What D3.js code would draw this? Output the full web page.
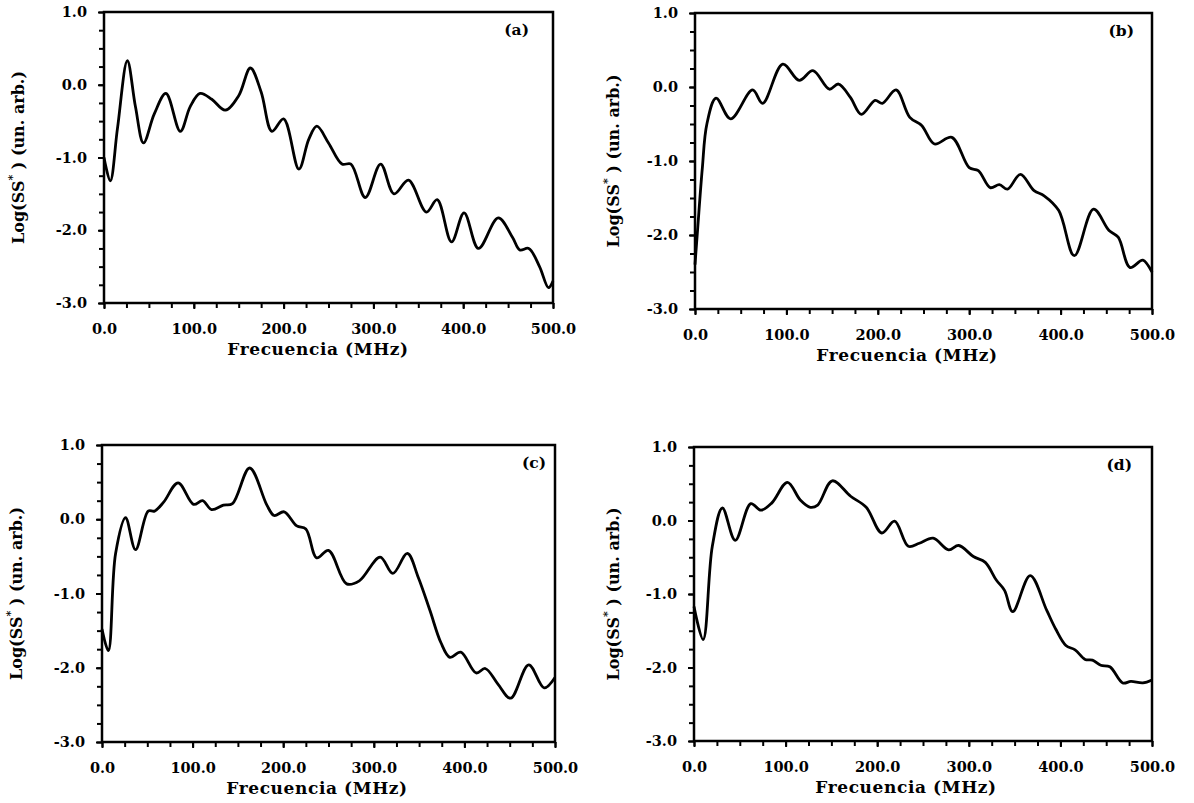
<!DOCTYPE html>
<html>
<head>
<meta charset="utf-8">
<script src="https://cdn.jsdelivr.net/npm/d3@7"></script>
<style>
  body { margin: 0; background: #fff; }
  svg { display: block; }
  text { font-family: "DejaVu Serif", "Liberation Serif", serif; font-weight: bold; fill: #000; }
</style>
</head>
<body>
<div id="vis"></div>
<script>
// values (frequency in MHz, log amplitude)
const freqA = [0, 7, 15, 26, 35, 44, 56, 69, 85, 96, 107, 120, 135, 150, 163, 175, 187, 200, 217, 228, 237, 250, 265, 275, 291, 308, 323, 339, 359, 371, 387, 401, 417, 439, 455, 463, 473, 485, 495, 500];
const logA = [-1.0, -1.32, -0.6, 0.33, -0.3, -0.8, -0.4, -0.12, -0.64, -0.3, -0.12, -0.2, -0.35, -0.15, 0.23, -0.1, -0.64, -0.47, -1.16, -0.75, -0.57, -0.8, -1.09, -1.09, -1.55, -1.09, -1.5, -1.31, -1.75, -1.58, -2.16, -1.76, -2.25, -1.83, -2.1, -2.27, -2.25, -2.5, -2.79, -2.7];

const freqB = [0, 3, 8, 13, 23, 39, 63, 74, 96, 114, 129, 147, 157, 170, 182, 197, 205, 220, 235, 248, 262, 281, 300, 310, 323, 333, 342, 356, 371, 382, 398, 415, 436, 453, 463, 476, 490, 500];
const logB = [-2.4, -1.9, -1.1, -0.5, -0.15, -0.43, -0.04, -0.22, 0.31, 0.09, 0.22, -0.03, 0.04, -0.14, -0.37, -0.18, -0.22, -0.04, -0.41, -0.52, -0.77, -0.68, -1.09, -1.13, -1.36, -1.32, -1.38, -1.18, -1.4, -1.47, -1.67, -2.28, -1.65, -1.94, -2.03, -2.44, -2.34, -2.5];

const freqC = [0, 7, 15, 26, 37, 51, 58, 68, 84, 101, 111, 121, 134, 144, 163, 182, 190, 201, 215, 225, 237, 250, 270, 284, 307, 321, 337, 349, 362, 374, 384, 396, 413, 423, 437, 451, 471, 488, 500];
const logC = [-1.48, -1.77, -0.46, 0.02, -0.41, 0.11, 0.11, 0.23, 0.49, 0.2, 0.25, 0.13, 0.19, 0.21, 0.69, 0.19, 0.05, 0.1, -0.09, -0.13, -0.52, -0.42, -0.87, -0.83, -0.51, -0.73, -0.46, -0.78, -1.23, -1.66, -1.86, -1.79, -2.07, -2.01, -2.22, -2.41, -1.96, -2.27, -2.13];

const freqD = [0, 10, 20, 31, 45, 62, 73, 85, 102, 116, 127, 135, 151, 171, 188, 205, 219, 234, 246, 261, 278, 289, 305, 318, 330, 339, 348, 367, 385, 395, 406, 416, 427, 435, 444, 454, 468, 477, 490, 500];
const logD = [-1.17, -1.62, -0.35, 0.17, -0.27, 0.23, 0.14, 0.24, 0.52, 0.28, 0.18, 0.21, 0.54, 0.33, 0.18, -0.17, -0.01, -0.35, -0.31, -0.24, -0.4, -0.34, -0.49, -0.57, -0.81, -0.95, -1.24, -0.75, -1.22, -1.48, -1.7, -1.76, -1.89, -1.9, -1.97, -1.99, -2.21, -2.19, -2.21, -2.17];

const panelTags = ["(a)", "(b)", "(c)", "(d)"];
const xTickValues = [0, 100, 200, 300, 400, 500];
const xTickLabels = ["0.0", "100.0", "200.0", "300.0", "400.0", "500.0"];
const yTickValues = [-3, -2, -1, 0, 1];
const yTickLabels = ["-3.0", "-2.0", "-1.0", "0.0", "1.0"];

const W = 1194, H = 803;
const svg = d3.select("#vis").append("svg")
    .attr("width", W)
    .attr("height", H);

// frame boxes for each panel
const boxes = [
  {left: 104, right: 553, top: 12, bottom: 303, tagX: 529, yTitleX: 24, xTitleX: 318},
  {left: 695, right: 1152, top: 13, bottom: 309, tagX: 1134, yTitleX: 619, xTitleX: 907},
  {left: 102, right: 555, top: 445, bottom: 742, tagX: 546, yTitleX: 22, xTitleX: 317},
  {left: 694, right: 1152, top: 447, bottom: 741, tagX: 1132, yTitleX: 619, xTitleX: 906}
];
const series = [[freqA, logA], [freqB, logB], [freqC, logC], [freqD, logD]];

boxes.forEach((b, i) => {
  const X = d3.scaleLinear().domain([0, 500]).range([b.left, b.right]);
  const Y = d3.scaleLinear().domain([-3, 1]).range([b.bottom, b.top]);
  const g = svg.append("g");

  // minor ticks
  g.append("g")
      .attr("transform", "translate(0," + b.bottom + ")")
      .call(d3.axisBottom(X).tickValues(d3.range(0, 501, 25)).tickSize(5).tickFormat(""))
      .call(a => a.select(".domain").remove())
      .selectAll("line").attr("stroke-width", 2);
  g.append("g")
      .attr("transform", "translate(" + b.left + ",0)")
      .call(d3.axisLeft(Y).tickValues(d3.range(-3, 1.01, 0.25)).tickSize(5).tickFormat(""))
      .call(a => a.select(".domain").remove())
      .selectAll("line").attr("stroke-width", 2);

  // major ticks + labels
  const xa = g.append("g")
      .attr("transform", "translate(0," + b.bottom + ")")
      .call(d3.axisBottom(X).tickValues(xTickValues).tickSize(6).tickPadding(15)
              .tickFormat((d, k) => xTickLabels[k]));
  xa.select(".domain").remove();
  xa.selectAll("line").attr("stroke-width", 2);
  xa.selectAll("text").attr("font-size", 14.5).attr("font-family", null);

  const ya = g.append("g")
      .attr("transform", "translate(" + b.left + ",0)")
      .call(d3.axisLeft(Y).tickValues(yTickValues).tickSize(6).tickPadding(11)
              .tickFormat((d, k) => yTickLabels[k]));
  ya.select(".domain").remove();
  ya.selectAll("line").attr("stroke-width", 2);
  ya.selectAll("text").attr("font-size", 14.5).attr("font-family", null);

  // frame
  g.append("rect")
      .attr("x", b.left).attr("y", b.top)
      .attr("width", b.right - b.left).attr("height", b.bottom - b.top)
      .attr("fill", "none").attr("stroke", "#000").attr("stroke-width", 2.5);

  // curve
  const fx = series[i][0], vy = series[i][1];
  const line = d3.line()
      .x(k => X(fx[k]))
      .y(k => Y(vy[k]))
      .curve(d3.curveCatmullRom.alpha(0.5));
  g.append("path")
      .attr("d", line(d3.range(fx.length)))
      .attr("fill", "none")
      .attr("stroke", "#000")
      .attr("stroke-width", 2.8)
      .attr("stroke-linejoin", "round");

  // panel tag
  g.append("text")
      .attr("x", b.tagX).attr("y", b.top + 23)
      .attr("text-anchor", "end")
      .attr("font-size", 15.5)
      .text(panelTags[i]);

  // axis titles
  g.append("text")
      .attr("x", b.xTitleX)
      .attr("y", b.bottom + 52)
      .attr("text-anchor", "middle")
      .attr("font-size", 17)
      .attr("letter-spacing", 0.6)
      .text("Frecuencia (MHz)");

  const yt = g.append("text")
      .attr("transform", "translate(" + b.yTitleX + "," + ((b.top + b.bottom) / 2) + ") rotate(-90)")
      .attr("text-anchor", "middle")
      .attr("font-size", 16);
  yt.append("tspan").text("Log(SS");
  yt.append("tspan").attr("font-size", 11).attr("dy", -8).text("*");
  yt.append("tspan").attr("dy", 8).text(" ) (un. arb.)");
});
</script>
</body>
</html>
